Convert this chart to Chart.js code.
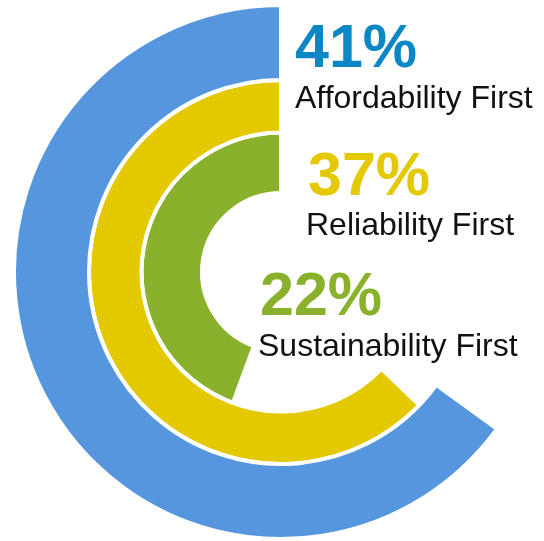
<!DOCTYPE html>
<html>
<head>
<meta charset="utf-8">
<script src="https://cdn.jsdelivr.net/npm/chart.js@4.4.1/dist/chart.umd.min.js"></script>
<style>
  html, body { margin: 0; padding: 0; background: #fff; }
  #wrap { width: 544px; height: 541px; }
</style>
</head>
<body>
<div id="wrap"><canvas id="myChart" width="544" height="541"></canvas></div>
<script>
const categories = ['Affordability First', 'Reliability First', 'Sustainability First'];
const shares = [41, 37, 22];
// how far round the circle each ring runs in the picture (% of a full turn)
const arcSweep = [65.0, 62.8, 44.4];

const ringColors = ['#5596de', '#e4c800', '#89b12c'];
const textColors = ['#0a87c4', '#e4c800', '#89b12c'];
const ringWeights = [75, 52.5, 60.5];

// where the big % and the caption sit, left edge + baseline
const labelSpots = [
  { px: 295, py: 67, tx: 295, ty: 108 },
  { px: 308, py: 195, tx: 306, ty: 235 },
  { px: 260, py: 315, tx: 258, ty: 356 }
];

const labelPlugin = {
  id: 'ringLabels',
  afterDraw(chart) {
    const ctx = chart.ctx;
    ctx.save();
    ctx.textAlign = 'left';
    ctx.textBaseline = 'alphabetic';
    categories.forEach((name, i) => {
      const s = labelSpots[i];
      ctx.fillStyle = textColors[i];
      ctx.font = 'bold 61px "Liberation Sans", Arial, sans-serif';
      ctx.fillText(shares[i] + '%', s.px, s.py);
      ctx.fillStyle = '#111111';
      ctx.font = '32px "Liberation Sans", Arial, sans-serif';
      ctx.fillText(name, s.tx, s.ty);
    });
    ctx.restore();
  }
};

const Rings = new Chart(document.getElementById('myChart'), {
  type: 'doughnut',
  data: {
    labels: ['rest', 'share'],
    datasets: categories.map((name, i) => ({
      label: name,
      data: [100 - arcSweep[i], arcSweep[i]],
      backgroundColor: ['rgba(0,0,0,0)', ringColors[i]],
      borderColor: '#ffffff',
      borderWidth: [0, 4],
      weight: ringWeights[i]
    }))
  },
  options: {
    responsive: false,
    animation: false,
    events: [],
    radius: 267,
    cutout: (79 / 267 * 100) + '%',
    layout: { padding: { left: 18, top: 3 } },
    plugins: {
      legend: { display: false },
      tooltip: { enabled: false }
    }
  },
  plugins: [labelPlugin]
});
</script>
</body>
</html>
